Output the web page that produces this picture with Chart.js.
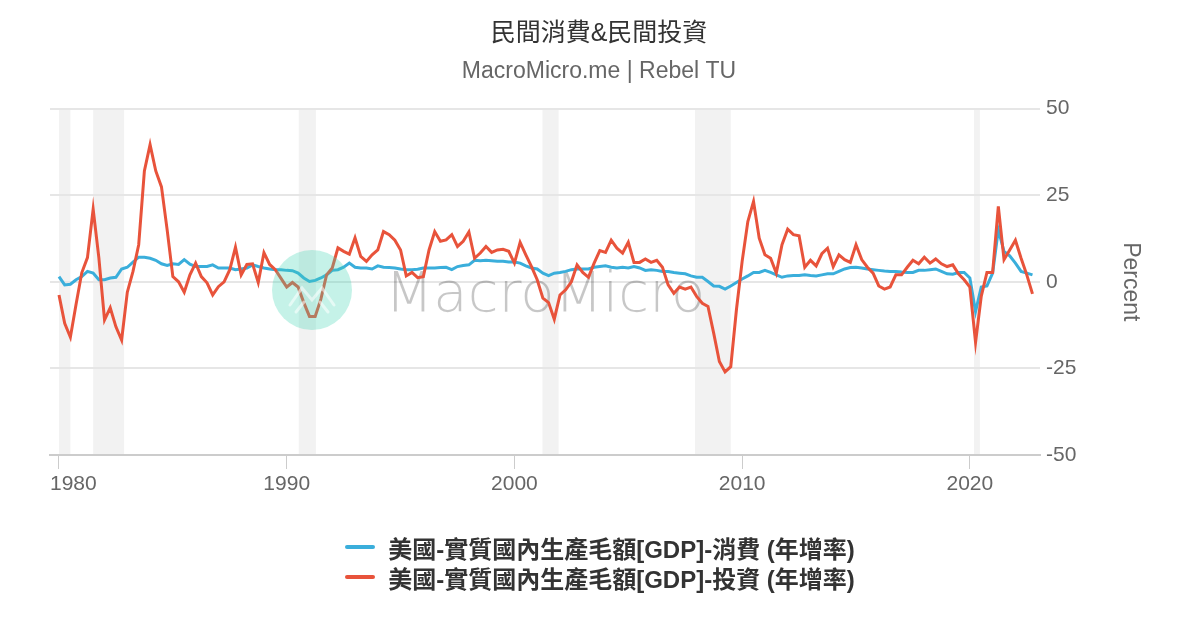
<!DOCTYPE html>
<html>
<head>
<meta charset="utf-8">
<script src="https://cdn.jsdelivr.net/npm/chart.js@4.4.0/dist/chart.umd.min.js"></script>
<style>
  html, body { margin: 0; padding: 0; background: #fff; }
  #wrap { position: relative; width: 1200px; height: 630px; }
  #legend {
    position: absolute; left: 0; top: 532px; width: 1200px;
    display: flex; flex-direction: column; align-items: center;
    font: bold 24px "Liberation Sans", "Noto Sans CJK TC", sans-serif; color: #333;
  }
  #legend .rows { display: flex; flex-direction: column; }
  #legend .item { display: flex; align-items: center; height: 30px; white-space: nowrap; }
  #legend .swatch { width: 30px; height: 4px; border-radius: 2px; margin-right: 13px; }
</style>
</head>
<body>
<div id="wrap">
  <canvas id="chart" width="1200" height="630"></canvas>
  <div id="legend"><div class="rows"></div></div>
</div>
<script>
// quarterly YoY growth, 1980Q1 .. 2022Q4
const startYear = 1980;

const consumption = [
  1.5, -0.9, -0.7, 0.6,   // 1980
  1.5, 3.0, 2.5, 0.6,     // 1981
  0.6, 1.1, 1.3, 3.7,     // 1982
  4.2, 5.7, 7.1, 7.1,     // 1983
  6.8, 6.2, 5.2, 4.7,     // 1984
  5.2, 5.0, 6.4, 5.1,     // 1985
  4.4, 4.4, 4.4, 4.9,     // 1986
  4.0, 4.0, 4.0, 3.5,     // 1987
  3.7, 4.0, 4.9, 4.4,     // 1988
  4.0, 3.7, 3.5, 3.5,     // 1989
  3.3, 3.2, 2.5, 1.1,     // 1990
  0.1, 0.4, 1.1, 2.0,     // 1991
  3.3, 3.5, 4.2, 5.4,     // 1992
  4.2, 4.0, 4.0, 3.7,     // 1993
  4.6, 4.2, 4.1, 4.0,     // 1994
  3.7, 3.5, 3.5, 3.6,     // 1995
  4.0, 4.0, 4.0, 4.1,     // 1996
  4.2, 3.5, 4.4, 4.7,     // 1997
  4.9, 6.2, 6.1, 6.2,     // 1998
  6.1, 5.9, 5.9, 5.7,     // 1999
  5.7, 5.4, 4.6, 4.0,     // 2000
  3.7, 2.5, 1.8, 2.5,     // 2001
  2.7, 3.0, 3.5, 3.7,     // 2002
  3.7, 3.7, 4.2, 4.4,     // 2003
  4.6, 4.2, 4.0, 4.2,     // 2004
  4.0, 4.4, 4.0, 3.3,     // 2005
  3.5, 3.3, 3.0, 3.0,     // 2006
  2.7, 2.5, 2.3, 1.7,     // 2007
  1.3, 1.3, 0.1, -1.2,    // 2008
  -1.3, -2.1, -1.2, -0.2, // 2009
  0.8, 1.7, 2.7, 2.7,     // 2010
  3.3, 2.7, 2.0, 1.3,     // 2011
  1.7, 1.8, 1.8, 2.0,     // 2012
  1.8, 1.7, 2.0, 2.3,     // 2013
  2.3, 3.0, 3.7, 4.1,     // 2014
  4.2, 4.0, 3.7, 3.5,     // 2015
  3.3, 3.1, 3.0, 3.0,     // 2016
  2.8, 2.7, 2.7, 3.3,     // 2017
  3.3, 3.5, 3.7, 3.0,     // 2018
  2.3, 2.2, 2.7, 2.7,     // 2019
  1.1, -8.6, -1.5, -1.2,  // 2020
  2.5, 15.0, 8.8, 7.5,    // 2021
  5.4, 3.0, 2.5, 2.0      // 2022
];

const investment = [
  -3.8, -12.0, -16.0, -6.5,  // 1980
  2.6, 7.0, 21.0, 7.0,       // 1981
  -11.0, -7.5, -13.0, -16.8, // 1982
  -3.0, 3.0, 10.7, 32.0,     // 1983
  39.6, 32.0, 27.4, 15.0,    // 1984
  1.5, 0.0, -3.0, 2.0,       // 1985
  5.4, 1.5, -0.3, -3.8,      // 1986
  -1.4, 0.0, 3.5, 10.0,      // 1987
  2.0, 5.0, 5.2, -0.2,       // 1988
  8.4, 5.0, 3.5, 1.0,        // 1989
  -1.5, -0.2, -1.5, -6.0,    // 1990
  -10.0, -10.0, -5.0, 2.0,   // 1991
  4.0, 9.8, 8.8, 8.0,        // 1992
  12.7, 7.3, 5.9, 7.8,       // 1993
  9.2, 14.5, 13.6, 12.0,     // 1994
  9.2, 1.7, 2.7, 1.2,        // 1995
  1.5, 9.2, 14.5, 11.7,      // 1996
  12.1, 13.6, 10.2, 11.7,    // 1997
  14.4, 6.8, 8.3, 10.2,      // 1998
  8.5, 9.2, 9.4, 8.8,        // 1999
  5.4, 11.4, 7.8, 4.4,       // 2000
  0.6, -4.7, -6.0, -10.8,    // 2001
  -3.8, -2.3, 0.0, 4.9,      // 2002
  2.7, 1.3, 5.4, 9.0,        // 2003
  8.5, 12.0, 9.7, 8.3,       // 2004
  11.4, 5.6, 5.6, 6.6,       // 2005
  5.6, 6.2, 4.2, -0.9,       // 2006
  -3.3, -1.5, -2.1, -1.5,    // 2007
  -4.2, -6.2, -7.1, -14.8,   // 2008
  -23.0, -26.0, -24.5, -8.0, // 2009
  5.9, 17.4, 23.2, 12.6,     // 2010
  7.8, 6.8, 2.5, 10.7,       // 2011
  15.2, 13.6, 13.3, 4.2,     // 2012
  6.2, 4.6, 8.1, 9.7,        // 2013
  4.4, 7.8, 6.4, 5.6,        // 2014
  10.7, 6.4, 4.2, 2.5,       // 2015
  -1.2, -2.1, -1.5, 2.0,     // 2016
  2.0, 4.2, 6.2, 5.2,        // 2017
  7.1, 5.4, 6.6, 5.2,        // 2018
  4.4, 4.9, 2.3, 0.6,        // 2019
  -1.5, -17.5, -4.2, 2.7,    // 2020
  2.7, 21.8, 6.4, 9.2,       // 2021
  12.0, 6.8, 2.0, -3.5       // 2022
];

// recession periods (start, end) in fractional years
const recessions = [
  [1980.0, 1980.5], [1981.5, 1982.86], [1990.53, 1991.28],
  [2001.23, 2001.94], [2007.93, 2009.5], [2020.18, 2020.44]
];

const xTicks = [1980, 1990, 2000, 2010, 2020];
const yTicks = [-50, -25, 0, 25, 50];

const seriesNames = [
  "美國-實質國內生產毛額[GDP]-消費 (年增率)",
  "美國-實質國內生產毛額[GDP]-投資 (年增率)"
];
const seriesColors = ["#3aaedb", "#e8533b"];

const FONT = '"Liberation Sans", "Noto Sans CJK TC", sans-serif';

const toPoints = arr => arr.map((v, i) => ({ x: startYear + i * 0.25, y: v }));

// grey recession bands behind everything
const bandsPlugin = {
  id: "bands",
  beforeDraw(chart) {
    const { ctx, chartArea, scales } = chart;
    ctx.save();
    ctx.fillStyle = "#f2f2f2";
    recessions.forEach(([a, b]) => {
      const x1 = scales.x.getPixelForValue(a);
      const x2 = scales.x.getPixelForValue(b);
      ctx.fillRect(x1, chartArea.top, x2 - x1, chartArea.bottom - chartArea.top);
    });
    ctx.restore();
  }
};

// keep the first x label inside the plot, like a justified label
const justifyPlugin = {
  id: "justifyFirstLabel",
  beforeDraw(chart) {
    const items = chart.scales.x.getLabelItems();
    if (items.length) {
      items[0].options.textAlign = "left";
      items[0].options.translation[0] = chart.chartArea.left;
    }
  }
};

// MacroMicro watermark: text under the lines, logo circle over them
const watermarkPlugin = {
  id: "watermark",
  beforeDatasetsDraw(chart) {
    const ctx = chart.ctx;
    ctx.save();
    ctx.font = '200 56px "DejaVu Sans", sans-serif';
    ctx.fillStyle = "rgba(0,0,0,0.22)";
    ctx.textBaseline = "alphabetic";
    ctx.fillText("MacroMicro", 385, 311);
    ctx.restore();
  },
  afterDatasetsDraw(chart) {
    const ctx = chart.ctx;
    ctx.save();
    ctx.fillStyle = "rgba(62,211,178,0.3)";
    ctx.beginPath();
    ctx.arc(312, 290, 40, 0, Math.PI * 2);
    ctx.fill();
    ctx.strokeStyle = "rgba(255,255,255,0.55)";
    ctx.lineWidth = 3;
    ctx.lineCap = "round";
    ctx.beginPath();
    ctx.moveTo(290, 305); ctx.lineTo(302, 288); ctx.lineTo(312, 300);
    ctx.lineTo(322, 288); ctx.lineTo(334, 305);
    ctx.moveTo(296, 312); ctx.lineTo(304, 302);
    ctx.moveTo(320, 302); ctx.lineTo(328, 312);
    ctx.stroke();
    ctx.restore();
  }
};

const chart = new Chart(document.getElementById("chart"), {
  type: "line",
  data: {
    datasets: [
      {
        label: seriesNames[0],
        data: toPoints(consumption),
        borderColor: seriesColors[0],
        borderWidth: 3,
        pointRadius: 0,
        tension: 0,
        order: 1
      },
      {
        label: seriesNames[1],
        data: toPoints(investment),
        borderColor: seriesColors[1],
        borderWidth: 3,
        pointRadius: 0,
        tension: 0,
        order: 0
      }
    ]
  },
  options: {
    responsive: false,
    animation: false,
    layout: { padding: { left: 50, right: 52, top: 0, bottom: 0 } },
    plugins: {
      legend: { display: false },
      tooltip: { enabled: false },
      title: {
        display: true,
        text: "民間消費&民間投資",
        color: "#333",
        font: { size: 25, family: FONT, weight: "normal" },
        padding: { top: 19, bottom: 5 }
      },
      subtitle: {
        display: true,
        text: "MacroMicro.me | Rebel TU",
        color: "#666",
        font: { size: 23, family: FONT },
        padding: { top: 4, bottom: 23 }
      }
    },
    scales: {
      x: {
        type: "linear",
        min: 1979.605,
        max: 2023.08,
        afterFit: s => { s.height = 175; },
        afterBuildTicks: s => { s.ticks = xTicks.map(v => ({ value: v })); },
        grid: { drawOnChartArea: false, drawTicks: true, tickLength: 14, color: "#cccccc", lineWidth: 1 },
        border: { display: true, color: "#cccccc", width: 2 },
        ticks: {
          color: "#666",
          font: { size: 21, family: FONT },
          padding: 3,
          maxRotation: 0,
          callback: v => String(v)
        }
      },
      y: {
        position: "right",
        min: -50,
        max: 50,
        afterFit: s => { s.width = 108; },
        afterBuildTicks: s => { s.ticks = yTicks.map(v => ({ value: v })); },
        grid: { color: "#e6e6e6", lineWidth: 2, drawTicks: false },
        border: { display: false },
        ticks: {
          color: "#666",
          font: { size: 21, family: FONT },
          padding: 6
        },
        title: {
          display: true,
          text: "Percent",
          color: "#666",
          font: { size: 23, family: FONT },
          padding: { top: 4, bottom: 0 }
        }
      }
    }
  },
  plugins: [bandsPlugin, justifyPlugin, watermarkPlugin]
});

// stacked legend below the chart, built from the datasets
const rows = document.querySelector("#legend .rows");
chart.data.datasets.forEach(ds => {
  const item = document.createElement("div");
  item.className = "item";
  const sw = document.createElement("span");
  sw.className = "swatch";
  sw.style.background = ds.borderColor;
  const txt = document.createElement("span");
  txt.textContent = ds.label;
  item.appendChild(sw);
  item.appendChild(txt);
  rows.appendChild(item);
});
</script>
</body>
</html>
